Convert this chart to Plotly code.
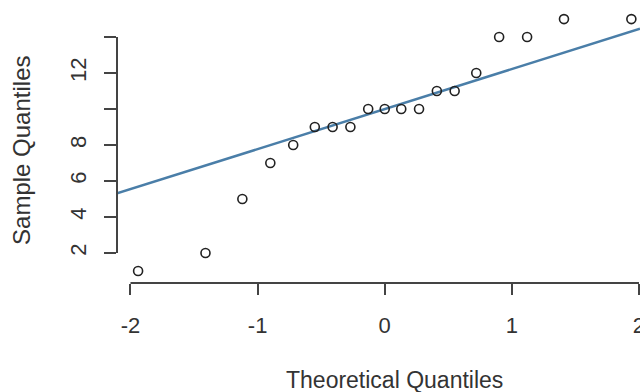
import numpy as np
import plotly.graph_objects as go

# Normal QQ plot data
theoretical = [-1.94, -1.41, -1.12, -0.90, -0.72, -0.55, -0.41, -0.27, -0.13, 0.0,
               0.13, 0.27, 0.41, 0.55, 0.72, 0.90, 1.12, 1.41, 1.94]
sample = [1, 2, 5, 7, 8, 9, 9, 9, 10, 10, 10, 10, 11, 11, 12, 14, 14, 15, 15]

x_ticks = [-2, -1, 0, 1, 2]
x_tick_text = ["-2", "-1", "0", "1", "2"]
y_ticks = [2, 4, 6, 8, 10, 12, 14]
y_tick_text = ["2", "4", "6", "8", "", "12", ""]

x_title = "Theoretical Quantiles"
y_title = "Sample Quantiles"

# qqline through the quartiles (as R's qqline)
q1, q3 = np.percentile(sample, [25, 75])
z75 = 0.6744897501960817
slope = (q3 - q1) / (2 * z75)
intercept = q1 + z75 * slope

x_range = [-2.106, 2.008]
y_range = [0.333, 15.56]

text_color = "#333333"
axis_color = "#444444"
font_family = "Liberation Sans, Arial, sans-serif"

fig = go.Figure()
line_x = np.array(x_range)
fig.add_trace(go.Scatter(
    x=line_x, y=intercept + slope * line_x, mode="lines",
    line=dict(color="#4a7ea8", width=2.5), hoverinfo="skip", showlegend=False))
fig.add_trace(go.Scatter(
    x=theoretical, y=sample, mode="markers",
    marker=dict(symbol="circle-open", size=9, color="#222222", line=dict(width=1.6)),
    showlegend=False, cliponaxis=False))

# R-style axis lines spanning only the tick range
fig.add_shape(type="line", xref="x", yref="paper", x0=x_ticks[0], x1=x_ticks[-1], y0=0, y1=0,
              line=dict(color=axis_color, width=2))
fig.add_shape(type="line", xref="paper", yref="y", x0=0, x1=0, y0=y_ticks[0], y1=y_ticks[-1],
              line=dict(color=axis_color, width=2))

fig.add_annotation(text=x_title, xref="paper", yref="paper", x=0.5315, y=-0.354,
                   showarrow=False, font=dict(size=23, color=text_color, family=font_family),
                   xanchor="center", yanchor="middle")
fig.add_annotation(text=y_title, xref="paper", yref="paper", x=-0.1816, y=0.482,
                   showarrow=False, textangle=-90,
                   font=dict(size=24, color=text_color, family=font_family),
                   xanchor="center", yanchor="middle")

fig.update_layout(
    width=640, height=392,
    margin=dict(l=117, r=0, t=9, b=109, autoexpand=False),
    paper_bgcolor="white", plot_bgcolor="white",
    font=dict(family=font_family, size=22, color=text_color),
    xaxis=dict(range=x_range, tickvals=x_ticks, ticktext=x_tick_text,
               showgrid=False, zeroline=False, showline=False, automargin=False,
               ticks="outside", ticklen=11, tickwidth=2, tickcolor=axis_color,
               ticklabelstandoff=12, ticklabeloverflow="allow"),
    yaxis=dict(range=y_range, tickvals=y_ticks, ticktext=y_tick_text,
               showgrid=False, zeroline=False, showline=False, automargin=False,
               ticks="outside", ticklen=12, tickwidth=2, tickcolor=axis_color,
               tickangle=-90, ticklabelstandoff=9),
)

fig.write_html("out.html", config={"displayModeBar": False},
               post_script="document.body.style.margin='0';document.body.style.overflow='hidden';")
